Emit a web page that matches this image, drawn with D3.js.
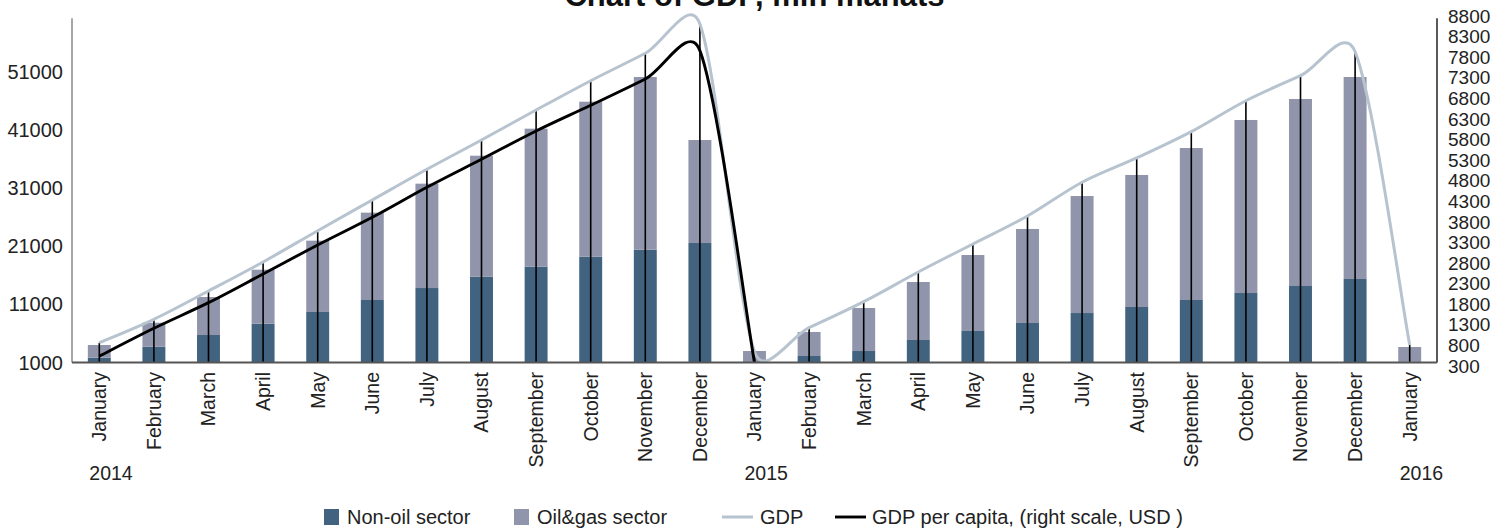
<!DOCTYPE html>
<html>
<head>
<meta charset="utf-8">
<script src="https://cdn.jsdelivr.net/npm/d3@7"></script>
<style>
  html, body { margin: 0; padding: 0; background: #fff; }
  svg { display: block; font-family: "Liberation Sans", Arial, Helvetica, sans-serif; }
</style>
</head>
<body>
<svg id="chart" width="1512" height="528"></svg>
<script>
// ---- data ----
const months = ["January","February","March","April","May","June","July","August","September","October","November","December",
                "January","February","March","April","May","June","July","August","September","October","November","December",
                "January"];
const yearLabels = ["2014","2015","2016"];
const yearIndex = [0, 12, 24];
const nonOil = [1830,3720,5740,7690,9710,11775,13840,15790,17520,19240,20450,21600,
                900,2120,2980,4880,6430,7810,9530,10570,11775,12980,14190,15400,
                1140];
const oilGas = [2190,4140,6550,9310,12290,15060,17990,20860,23790,26720,29770,17760,
                2080,4140,7420,10000,13100,16210,20170,22760,26200,29830,32240,34820,
                2530];
const gdp = [4410,8450,13330,18330,23720,29020,34310,39360,44530,49580,54310,59360,
             2860,7000,11480,16600,21430,26260,32070,36260,40790,46130,50440,54580,
             4020];
const gdpPerCapita = [540,1216,1838,2535,3239,3912,4641,5321,6008,6632,7271,7959,380];
const leftTicks = [1000,11000,21000,31000,41000,51000];
const rightTicks = [300,800,1300,1800,2300,2800,3300,3800,4300,4800,5300,5800,6300,6800,7300,7800,8300,8800];
const title = "Chart of GDP, mln manats";
const legendLabels = ["Non-oil sector","Oil&gas sector","GDP","GDP per capita, (right scale, USD )"];

// ---- layout ----
const svg = d3.select("#chart");
const L = 72, R = 1437, T = 18.3, B = 362.5;
const C = { nonOil: "#42637f", oil: "#9095ab", gdp: "#b7c4cf", pc: "#000000" };
const FS = 19.5;

const x = d3.scaleBand().domain(d3.range(months.length)).range([L, R]).padding(0);
const cx = i => x(i) + x.bandwidth() / 2;
const barW = x.bandwidth() * 0.42;
const y = d3.scaleLinear().domain([1000, 60340]).range([B, T]);
const yR = d3.scaleLinear().domain([300, 8800]).range([366, 16]);
const yc = v => y(Math.max(v, 1000));

// spreadsheet-style smoothed line (Bezier with clamped 1/6 tangents)
function smoothPath(pts) {
  const p = d3.path();
  const n = pts.length;
  const dist = (a, b) => Math.hypot(b[0] - a[0], b[1] - a[1]);
  p.moveTo(pts[0][0], pts[0][1]);
  for (let i = 0; i < n - 1; i++) {
    const p0 = pts[Math.max(i - 1, 0)], p1 = pts[i], p2 = pts[i + 1], p3 = pts[Math.min(i + 2, n - 1)];
    const d12 = dist(p1, p2), d02 = dist(p0, p2), d13 = dist(p1, p3);
    const f1 = d02 > 0 ? Math.min(1 / 6, d12 / (2 * d02)) : 0;
    const f2 = d13 > 0 ? Math.min(1 / 6, d12 / (2 * d13)) : 0;
    p.bezierCurveTo(
      p1[0] + (p2[0] - p0[0]) * f1, p1[1] + (p2[1] - p0[1]) * f1,
      p2[0] - (p3[0] - p1[0]) * f2, p2[1] - (p3[1] - p1[1]) * f2,
      p2[0], p2[1]);
  }
  return p.toString();
}

// title
svg.append("text").attr("x", (L + R) / 2).attr("y", 6).attr("text-anchor", "middle")
  .attr("font-size", 31).attr("font-weight", "bold").attr("fill", "#111").text(title);

// bars
const g = svg.append("g");
g.selectAll("rect.non").data(nonOil).join("rect").attr("class", "non")
  .attr("x", (d, i) => cx(i) - barW / 2).attr("width", barW)
  .attr("y", d => yc(d)).attr("height", d => B - yc(d)).attr("fill", C.nonOil);
g.selectAll("rect.oil").data(oilGas).join("rect").attr("class", "oil")
  .attr("x", (d, i) => cx(i) - barW / 2).attr("width", barW)
  .attr("y", (d, i) => yc(nonOil[i] + d)).attr("height", (d, i) => yc(nonOil[i]) - yc(nonOil[i] + d))
  .attr("fill", C.oil);

// drop lines
g.selectAll("line.drop").data(gdp).join("line").attr("class", "drop")
  .attr("x1", (d, i) => cx(i)).attr("x2", (d, i) => cx(i))
  .attr("y1", d => y(d)).attr("y2", B).attr("stroke", "#000").attr("stroke-width", 1.6);

// lines
svg.append("path").attr("d", smoothPath(gdp.map((d, i) => [cx(i), y(d)])))
  .attr("fill", "none").attr("stroke", C.gdp).attr("stroke-width", 3);
svg.append("path").attr("d", smoothPath(gdpPerCapita.map((d, i) => [cx(i), yR(d)])))
  .attr("fill", "none").attr("stroke", C.pc).attr("stroke-width", 2.9);

// axes lines
svg.append("line").attr("x1", L).attr("x2", L).attr("y1", T).attr("y2", B).attr("stroke", "#8a8a8a").attr("stroke-width", 1.5);
svg.append("line").attr("x1", R).attr("x2", R).attr("y1", T).attr("y2", B).attr("stroke", "#222").attr("stroke-width", 1.5);
svg.append("line").attr("x1", L).attr("x2", R).attr("y1", B).attr("y2", B).attr("stroke", "#555").attr("stroke-width", 1.8);

// left ticks
svg.append("g").selectAll("text").data(leftTicks).join("text")
  .attr("x", 63).attr("y", d => y(d)).attr("dy", "0.35em").attr("text-anchor", "end")
  .attr("font-size", 20).attr("fill", "#222").text(d => d);
// right ticks
svg.append("g").selectAll("text").data(rightTicks).join("text")
  .attr("x", 1448).attr("y", d => yR(d)).attr("dy", "0.35em").attr("text-anchor", "start")
  .attr("font-size", 19).attr("fill", "#222").text(d => d);

// month labels
svg.append("g").selectAll("text").data(months).join("text")
  .attr("transform", (d, i) => `translate(${cx(i)},372) rotate(-90)`)
  .attr("dy", "0.35em").attr("text-anchor", "end")
  .attr("font-size", FS).attr("fill", "#222").text(d => d);

// year labels
svg.append("g").selectAll("text").data(yearLabels).join("text")
  .attr("x", (d, i) => cx(yearIndex[i]) - 10).attr("y", 480)
  .attr("font-size", FS).attr("fill", "#222").text(d => d);

// legend
const lg = svg.append("g").attr("font-size", 20).attr("fill", "#222");
const lx = [324, 514, 722, 835];
lg.append("rect").attr("x", lx[0]).attr("y", 509).attr("width", 15).attr("height", 16).attr("fill", C.nonOil);
lg.append("rect").attr("x", lx[1]).attr("y", 509).attr("width", 15).attr("height", 16).attr("fill", C.oil);
lg.append("line").attr("x1", lx[2]).attr("x2", lx[2] + 31).attr("y1", 517).attr("y2", 517).attr("stroke", C.gdp).attr("stroke-width", 3);
lg.append("line").attr("x1", lx[3]).attr("x2", lx[3] + 31).attr("y1", 517).attr("y2", 517).attr("stroke", C.pc).attr("stroke-width", 2.9);
const tx = [347, 537, 760, 872];
lg.selectAll("text").data(legendLabels).join("text")
  .attr("x", (d, i) => tx[i]).attr("y", 517).attr("dy", "0.35em").text(d => d);
</script>
</body>
</html>
